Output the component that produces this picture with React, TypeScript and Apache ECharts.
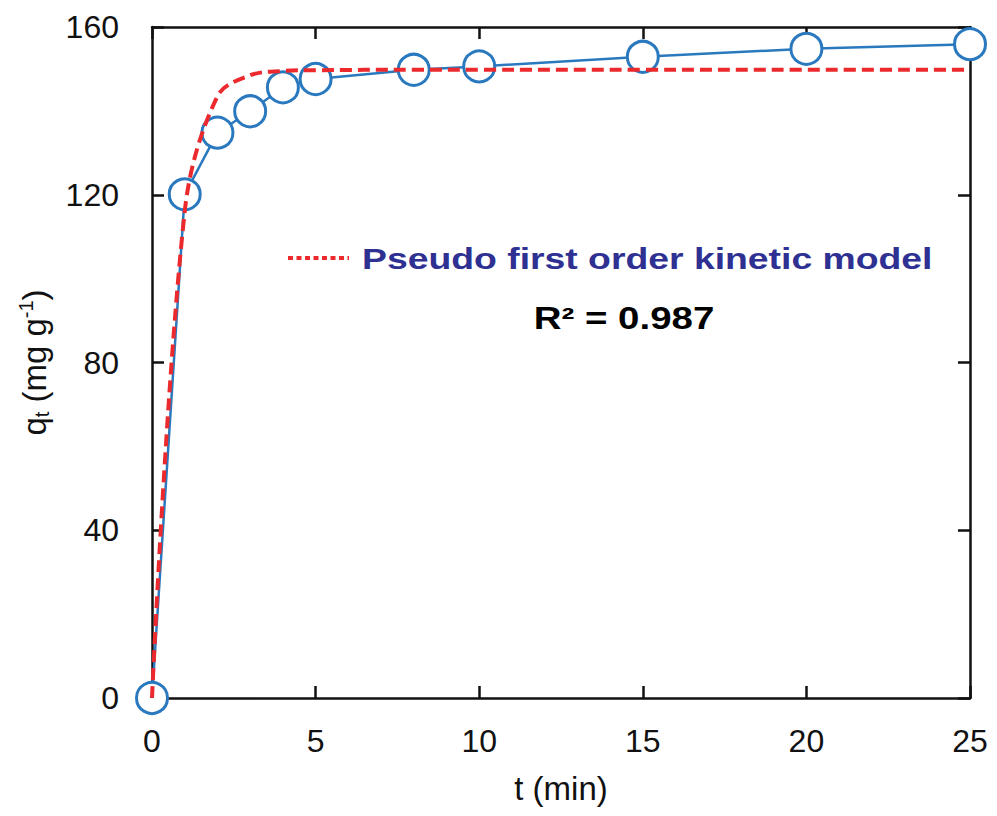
import React, { useEffect, useRef } from "react";
import * as echarts from "echarts";

const tValues = [0, 1, 2, 3, 4, 5, 8, 10, 15, 20, 25];
const qExperimental = [0, 120.1, 134.8, 139.9, 145.6, 147.6, 149.8, 150.6, 152.9, 154.8, 155.9];
const qModel = [0, 116, 143.5, 148.5, 149.5, 149.7, 149.8, 149.8, 149.8, 149.8, 149.8];

const xTicks = { min: 0, max: 25, interval: 5 };
const yTicks = { min: 0, max: 160, interval: 40 };

const legendLabel = "Pseudo first order kinetic model";
const r2Label = "R² = 0.987";

const FONT = "'Liberation Sans', Arial, sans-serif";
const BLUE = "#2a79bf";
const RED = "#ec2a2e";

export default function App() {
  const ref = useRef<HTMLDivElement>(null);

  useEffect(() => {
    if (!ref.current) return;
    const chart = echarts.init(ref.current, null, { renderer: "svg" });

    const axisCommon = {
      axisLine: { show: true, onZero: false, lineStyle: { color: "#111", width: 2.5 } },
      axisTick: { show: true, inside: true, length: 12, lineStyle: { color: "#111", width: 2.5 } },
      splitLine: { show: false },
    };

    const expData = tValues.map((t, i) => [t, qExperimental[i]]);
    const modelData = tValues.map((t, i) => [t, qModel[i]]);

    chart.setOption({
      animation: false,
      backgroundColor: "#ffffff",
      grid: { left: 152, right: 27, top: 27, bottom: 118, containLabel: false },
      xAxis: [
        {
          type: "value",
          ...xTicks,
          position: "bottom",
          ...axisCommon,
          axisLabel: { show: true, margin: 27, fontSize: 32, color: "#111", fontFamily: FONT },
          name: "t (min)",
          nameLocation: "middle",
          nameGap: 74,
          nameTextStyle: { fontSize: 33, color: "#111", fontFamily: FONT },
        },
        {
          type: "value",
          ...xTicks,
          position: "top",
          ...axisCommon,
          axisLabel: { show: false },
        },
      ],
      yAxis: [
        {
          type: "value",
          ...yTicks,
          position: "left",
          ...axisCommon,
          axisLabel: { show: true, margin: 33, fontSize: 32, color: "#111", fontFamily: FONT },
          name: "q{sub|t} (mg g{sup|-1})",
          nameLocation: "middle",
          nameGap: 100,
          nameTextStyle: {
            fontSize: 33,
            color: "#111",
            fontFamily: FONT,
            rich: {
              sub: { fontSize: 20, color: "#111", fontFamily: FONT, padding: [16, 0, 0, 0] },
              sup: { fontSize: 20, color: "#111", fontFamily: FONT, padding: [0, 0, 16, 0] },
            },
          },
        },
        {
          type: "value",
          ...yTicks,
          position: "right",
          ...axisCommon,
          axisLabel: { show: false },
        },
      ],
      series: [
        {
          name: "Experimental",
          type: "line",
          xAxisIndex: 0,
          yAxisIndex: 0,
          data: expData,
          symbol: "circle",
          symbolSize: 31,
          lineStyle: { color: BLUE, width: 2.5 },
          itemStyle: { color: "#ffffff", borderColor: BLUE, borderWidth: 3 },
          z: 2,
        },
        {
          name: legendLabel,
          type: "line",
          xAxisIndex: 0,
          yAxisIndex: 0,
          data: modelData,
          symbol: "none",
          smooth: 0.35,
          lineStyle: { color: RED, width: 4, type: [12, 6] },
          z: 3,
        },
      ],
      graphic: [
        {
          type: "line",
          shape: { x1: 288, y1: 258, x2: 349, y2: 258 },
          style: { stroke: RED, lineWidth: 4, lineDash: [5, 3.5] },
        },
        {
          type: "text",
          x: 362,
          y: 258,
          scaleX: 1.245,
          style: {
            text: legendLabel,
            fontSize: 30,
            fontWeight: "bold",
            fontFamily: FONT,
            fill: "#2e3192",
            align: "left",
            verticalAlign: "middle",
          },
        },
        {
          type: "text",
          x: 624,
          y: 318,
          scaleX: 1.24,
          style: {
            text: r2Label,
            fontSize: 31,
            fontWeight: "bold",
            fontFamily: FONT,
            fill: "#000",
            align: "center",
            verticalAlign: "middle",
          },
        },
      ],
    });

    return () => chart.dispose();
  }, []);

  return (
    <div
      ref={ref}
      style={{ position: "fixed", left: 0, top: 0, width: 997, height: 816, background: "#fff" }}
    />
  );
}
